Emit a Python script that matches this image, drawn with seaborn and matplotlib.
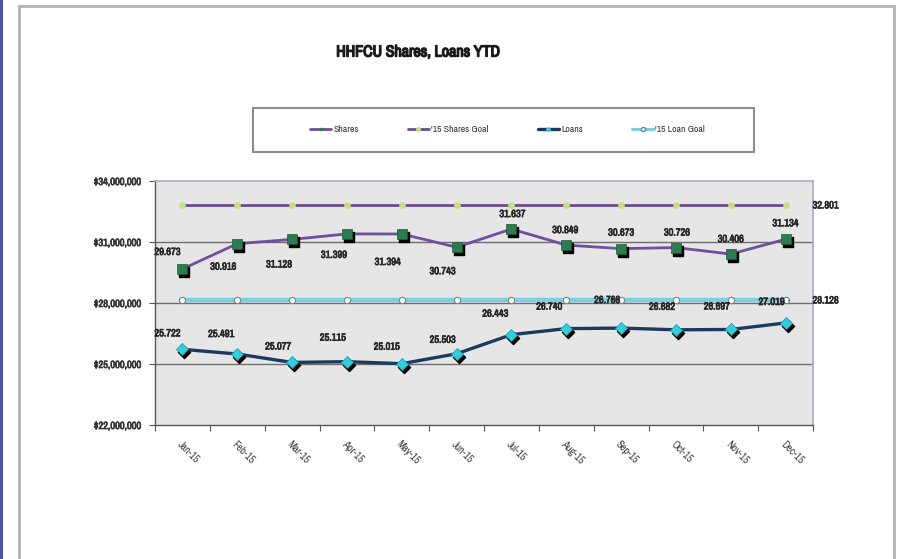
import matplotlib
matplotlib.use("Agg")
import matplotlib.pyplot as plt
import matplotlib.transforms as mtransforms
import matplotlib.patheffects as pe
from matplotlib import font_manager
from matplotlib.patches import Rectangle
from matplotlib.lines import Line2D
import seaborn as sns
import pandas as pd

months = ["Jan-15", "Feb-15", "Mar-15", "Apr-15", "May-15", "Jun-15",
          "Jul-15", "Aug-15", "Sep-15", "Oct-15", "Nov-15", "Dec-15"]
shares = [29673000, 30916000, 31128000, 31399000, 31394000, 30743000,
          31637000, 30849000, 30673000, 30726000, 30406000, 31134000]
loans = [25722000, 25491000, 25077000, 25115000, 25015000, 25503000,
         26443000, 26740000, 26766000, 26682000, 26697000, 27019000]
shares_goal = 32801000
loan_goal = 28128000
y_ticks = [22000000, 25000000, 28000000, 31000000, 34000000]

# label offsets in pixels (dx, dy) relative to each point
share_offsets = [(-15, 17), (-14, -23), (-13, -25), (-13, -21), (-14, -28), (-14, -24),
                 (1, 15), (-1, 15), (0, 16), (1, 15), (0, 15), (0, 16)]
loan_offsets = [(-15, 16), (-16, 20), (-14, 16), (-14, 24), (-15, 17), (-14, 14),
                (-16, 21), (-17, 22), (-14, 28), (-14, 23), (-14, 23), (-14, 21)]

sns.set_theme(style="white")

# prefer a narrow face when one is available
names = sorted({f.name for f in font_manager.fontManager.ttflist})
narrow = [n for n in names if "Narrow" in n or "Condensed" in n]
family = narrow[:1] + ["Liberation Sans", "DejaVu Sans"]
plt.rcParams["font.family"] = family


def heavy(color, w=0.7):
    return [pe.withStroke(linewidth=w, foreground=color)]


W, H = 897, 559
fig = plt.figure(figsize=(W / 100, H / 100), dpi=100)

# slide edge and chart frame
fig.patches.append(Rectangle((0, 0), 2.5 / W, 1, transform=fig.transFigure,
                             facecolor="#4b56a6", edgecolor="none"))
fig.patches.append(Rectangle((19 / W, -0.05), (894 - 19) / W, 1.05 - 6 / H,
                             transform=fig.transFigure, facecolor="none",
                             edgecolor="#b3b3b3", linewidth=2))

ax = fig.add_axes([155 / W, (H - 425) / H, (813 - 155) / W, (425 - 181) / H])
ax.set_facecolor("#e6e6e6")

x = list(range(len(months)))
df = pd.DataFrame({
    "x": x * 4,
    "value": shares + [shares_goal] * 12 + loans + [loan_goal] * 12,
    "series": ["Shares"] * 12 + ["'15 Shares Goal"] * 12 + ["Loans"] * 12 + ["'15 Loan Goal"] * 12,
})

for yv in y_ticks[1:4]:
    ax.axhline(yv, color="#6e6e6e", linewidth=1, zorder=1)

shadow = mtransforms.offset_copy(ax.transData, fig=fig, x=2, y=-3, units="dots")

# goal lines
sns.lineplot(data=df[df.series == "'15 Loan Goal"], x="x", y="value", ax=ax,
             color="#7ccfe0", linewidth=3.2, marker="o", markersize=4.5,
             markerfacecolor="white", markeredgecolor="#6a8a90", markeredgewidth=0.8,
             zorder=3, legend=False)
sns.lineplot(data=df[df.series == "'15 Shares Goal"], x="x", y="value", ax=ax,
             color="#6a4c93", linewidth=2, marker="o", markersize=4,
             markerfacecolor="#c5e37a", markeredgecolor="#c5e37a",
             zorder=3, legend=False)

# main series with shadowed markers
sns.lineplot(data=df[df.series == "Shares"], x="x", y="value", ax=ax,
             color="#6f4f9e", linewidth=2, zorder=4, legend=False)
ax.scatter(x, shares, marker="s", s=42, color="black", transform=shadow, zorder=5)
ax.scatter(x, shares, marker="s", s=42, color="#2a7d50", edgecolor="#1c5a38",
           linewidth=0.5, zorder=6)

sns.lineplot(data=df[df.series == "Loans"], x="x", y="value", ax=ax,
             color="#1b3a5e", linewidth=2.4, zorder=4, legend=False)
ax.scatter(x, loans, marker="D", s=38, color="black", transform=shadow, zorder=5)
ax.scatter(x, loans, marker="D", s=38, color="#2fd0dc", edgecolor="#1b9aa5",
           linewidth=0.5, zorder=6)

lab_color = "#262626"
lab_kw = dict(textcoords="offset pixels", ha="center", va="center",
              fontsize=7.5, fontweight="bold", color=lab_color, zorder=7,
              path_effects=heavy(lab_color, 0.5))
for i, v in enumerate(shares):
    ax.annotate(f"{v / 1e6:.3f}", (i, v), xytext=share_offsets[i], **lab_kw)
for i, v in enumerate(loans):
    ax.annotate(f"{v / 1e6:.3f}", (i, v), xytext=loan_offsets[i], **lab_kw)

goal_kw = dict(textcoords="offset pixels", ha="center", va="center", fontsize=7.5,
               fontweight="bold", color=lab_color, annotation_clip=False,
               path_effects=heavy(lab_color, 0.5))
ax.annotate(f"{shares_goal / 1e6:.3f}", (11, shares_goal), xytext=(40, 0), **goal_kw)
ax.annotate(f"{loan_goal / 1e6:.3f}", (11, loan_goal), xytext=(40, 0),
            arrowprops=dict(arrowstyle="-", color="#777777", lw=0.8,
                            shrinkA=14, shrinkB=2), **goal_kw)

ax.set_xlim(-0.5, 11.5)
ax.set_ylim(y_ticks[0], y_ticks[-1])
ax.set_yticks(y_ticks)
ax.set_yticklabels([f"${v:,.0f}" for v in y_ticks], fontsize=7.5, fontweight="bold",
                   color="#333333")
for t in ax.get_yticklabels():
    t.set_path_effects(heavy("#333333", 0.5))
ax.set_xticks(x)
ax.set_xticklabels(months, rotation=-45, ha="left", va="top",
                   rotation_mode="anchor", fontsize=7.5, color="#3a3a3a")
ax.set_xticks([i + 0.5 for i in range(-1, 12)], minor=True)
ax.tick_params(axis="x", which="major", length=0, pad=10)
ax.tick_params(axis="x", which="minor", length=4, width=0.8, color="#555555",
               direction="out", bottom=True)
ax.tick_params(axis="y", length=4, width=0.8, color="#555555", direction="out",
               left=True, pad=6)
ax.set_xlabel("")
ax.set_ylabel("")

for side in ["left", "bottom"]:
    ax.spines[side].set_color("#555555")
    ax.spines[side].set_linewidth(1)
for side in ["top", "right"]:
    ax.spines[side].set_color("#b3a8c8")
    ax.spines[side].set_linewidth(1.2)

fig.text(418 / W, 1 - 52 / H, "HHFCU Shares, Loans YTD", ha="center", va="center",
         fontsize=11.5, fontweight="bold", color="#1a1a1a",
         path_effects=heavy("#1a1a1a", 1.0))

# legend frame drawn separately so entries can sit inset from its edges
fig.patches.append(Rectangle((253 / W, 1 - 152 / H), (754 - 253) / W, 44 / H,
                             transform=fig.transFigure, facecolor="white",
                             edgecolor="#8c8c8c", linewidth=1.5, zorder=0))
handles = [
    Line2D([], [], color="#6f4f9e", lw=2, marker="s", markersize=2,
           markerfacecolor="#2a7d50", markeredgecolor="#2a7d50"),
    Line2D([], [], color="#6a4c93", lw=2, marker="o", markersize=2.5,
           markerfacecolor="#c5e37a", markeredgecolor="#c5e37a"),
    Line2D([], [], color="#1b3a5e", lw=2.4, marker="D", markersize=2,
           markerfacecolor="#2fd0dc", markeredgecolor="#2fd0dc"),
    Line2D([], [], color="#7ccfe0", lw=2.2, marker="o", markersize=3,
           markerfacecolor="white", markeredgecolor="#6a8a90"),
]
leg = fig.legend(handles, ["Shares", "'15 Shares Goal", "Loans", "'15 Loan Goal"],
                 loc="center", ncol=4, mode="expand",
                 bbox_to_anchor=(303 / W, 1 - 140 / H, (712 - 303) / W, 20 / H),
                 fontsize=7, handlelength=2.2, handletextpad=0.2,
                 borderpad=0.2, frameon=False)
for t in leg.get_texts():
    t.set_color("#333333")

fig.savefig("out.png", dpi=100, facecolor="white")
